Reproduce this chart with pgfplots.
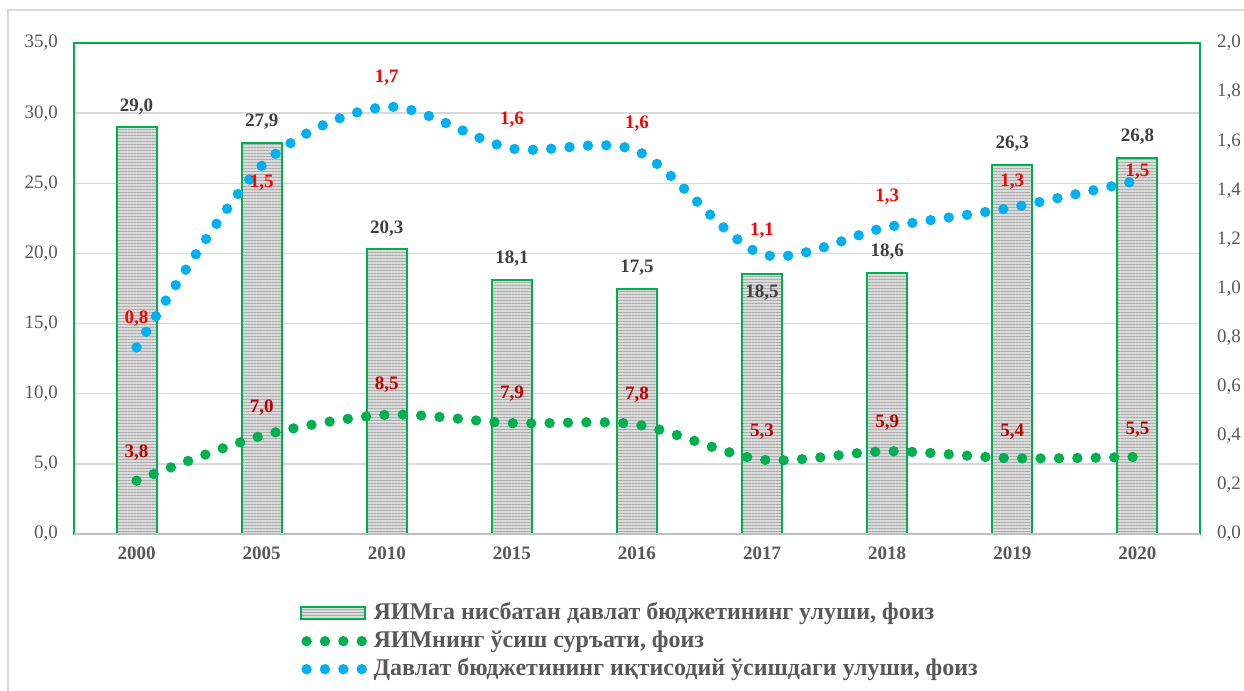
\documentclass[border=0pt]{standalone}
\usepackage{fontspec}
\setmainfont{Liberation Serif}
\usepackage{pgfplots}
\pgfplotsset{compat=1.18}
\usepackage{pgfplotstable}
\usetikzlibrary{patterns.meta}
\definecolor{bargreen}{HTML}{00B050}
\definecolor{dotblue}{HTML}{00B0F0}
\definecolor{txtgray}{HTML}{595959}
\definecolor{lblgray}{HTML}{404040}
\definecolor{darkred}{HTML}{C00000}
\definecolor{brightred}{HTML}{FF0000}
\definecolor{gridgray}{HTML}{D9D9D9}
\definecolor{axgray}{HTML}{BFBFBF}
\definecolor{barfill}{HTML}{DADADA}
\definecolor{barline}{HTML}{AAAAAA}

\pgfplotstableread{
x y lab dy
0 29.0 29,0 10.5
1 27.9 27,9 10.5
2 20.3 20,3 10.5
3 18.1 18,1 10.5
4 17.5 17,5 10.5
5 18.5 18,5 -9
6 18.6 18,6 10.5
7 26.3 26,3 10.5
8 26.8 26,8 10.5
}\bars

\pgfplotstableread{
x y lab dy
0 3.8 3,8 14
1 7.0 7,0 14
2 8.5 8,5 15
3 7.9 7,9 15
4 7.8 7,8 15
5 5.3 5,3 14
6 5.9 5,9 14.5
7 5.4 5,4 13.5
8 5.5 5,5 13.5
}\growth

\pgfplotstableread{
x y lab dy
0 0.76 0,8 14.5
1 1.50 1,5 -8.5
2 1.74 1,7 14.5
3 1.57 1,6 14.3
4 1.56 1,6 13.5
5 1.14 1,1 11.5
6 1.25 1,3 15
7 1.33 1,3 13
8 1.44 1,5 4.5
}\share

\tikzset{
  dotline/.style={line width=5.2pt, dash pattern=on 0pt off 9.2pt, line cap=round},
  barstyle/.style={draw=bargreen, line width=1pt, fill=barfill,
    postaction={pattern={Lines[angle=0,distance=1.5pt,line width=0.5pt]}, pattern color=barline}},
}

\pgfplotsset{
  common/.style={
    at={(37pt,-267pt)}, anchor=south west,
    width=563pt, height=245.5pt, scale only axis,
    xmin=-0.5, xmax=8.5,
    major tick length=0pt,
    tick style={draw=none},
    /pgf/number format/assume math mode=true,
    yticklabel style={font=\fontsize{9.5}{11}\selectfont, text=txtgray,
      /pgf/number format/fixed, /pgf/number format/fixed zerofill,
      /pgf/number format/precision=1, /pgf/number format/use comma},
  },
}

\begin{document}
\begin{tikzpicture}
\useasboundingbox (0,0) rectangle (622pt,-345.5pt);
\draw[gridgray, line width=0.75pt] (4pt,-5pt) rectangle (700pt,-420pt);

\begin{axis}[
  common,
  ymin=0, ymax=35,
  ytick={0,5,10,15,20,25,30,35},
  xtick={0,1,2,3,4,5,6,7,8},
  xticklabels={2000,2005,2010,2015,2016,2017,2018,2019,2020},
  xticklabel style={font=\bfseries\fontsize{9.5}{11}\selectfont, text=txtgray, yshift=-3pt},
  yticklabel style={xshift=-4.5pt},
  ymajorgrids,
  grid style={gridgray, line width=0.75pt},
  axis line style={bargreen, line width=1pt},
  legend style={at={(0.2007,-0.134)}, anchor=north west, draw=none, fill=none,
    inner sep=0pt, row sep=1pt, column sep=2pt,
    font=\bfseries\fontsize{12}{14}\selectfont, text=txtgray,
    nodes={inner sep=1pt, text height=8.5pt, text depth=2.5pt}},
  legend cell align=left,
  nodes near coords,
  point meta=explicit symbolic,
  every node near coord/.append style={anchor=center, yshift=\labdy pt,
     font=\bfseries\fontsize{9.5}{11}\selectfont},
  visualization depends on={\thisrow{dy}\as\labdy},
]
\addplot[ybar, bar width=20pt, barstyle,
  every node near coord/.append style={text=lblgray},
  legend image code/.code={\draw[barstyle] (0pt,-3pt) rectangle (32pt,3pt);}]
  table[x=x, y=y, meta=lab] {\bars};
\addlegendentry{ЯИМга нисбатан давлат бюджетининг улуши, фоиз}

\addplot[bargreen, dotline, smooth, mark=none,
  every node near coord/.append style={text=darkred},
  legend image code/.code={\draw[bargreen, dotline] (2.6pt,0pt) -- (30.5pt,0pt);}]
  table[x=x, y=y, meta=lab] {\growth};
\addlegendentry{ЯИМнинг ўсиш суръати, фоиз}

\addlegendimage{dotblue, dotline, legend image code/.code={\draw[dotblue, dotline] (2.6pt,0pt) -- (30.5pt,0pt);}}
\addlegendentry{Давлат бюджетининг иқтисодий ўсишдаги улуши, фоиз}

\draw[axgray, line width=1.5pt] (rel axis cs:0,0) -- (rel axis cs:1,0);
\end{axis}

\begin{axis}[
  common,
  ymin=0, ymax=2,
  ytick={0,0.2,0.4,0.6,0.8,1.0,1.2,1.4,1.6,1.8,2.0},
  axis y line*=right,
  axis x line=none,
  y axis line style={draw=none},
  yticklabel style={xshift=5pt},
  nodes near coords,
  point meta=explicit symbolic,
  every node near coord/.append style={anchor=center, yshift=\labdy pt,
     font=\bfseries\fontsize{9.5}{11}\selectfont, text=brightred},
  visualization depends on={\thisrow{dy}\as\labdy},
]
\addplot[dotblue, dotline, smooth, mark=none]
  table[x=x, y=y, meta=lab] {\share};
\end{axis}
\end{tikzpicture}
\end{document}
